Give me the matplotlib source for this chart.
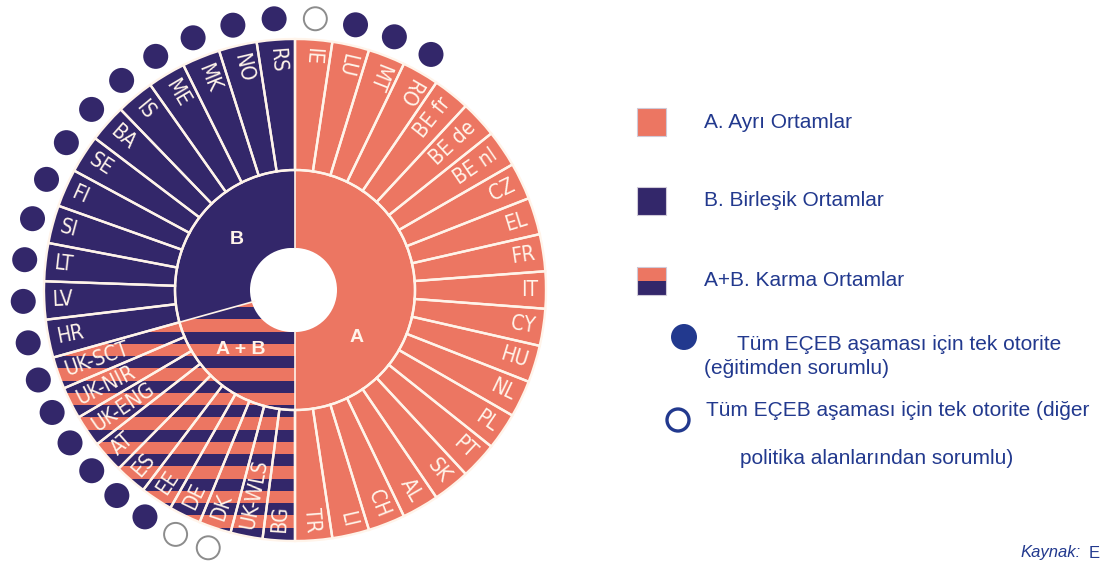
import numpy as np
import matplotlib.pyplot as plt
from matplotlib.patches import Wedge, Circle, Rectangle

# countries of each group, listed clockwise starting at the top of the circle
a_countries = ["IE", "LU", "MT", "RO", "BE fr", "BE de", "BE nl", "CZ", "EL", "FR", "IT",
               "CY", "HU", "NL", "PL", "PT", "SK", "AL", "CH", "LI", "TR"]
ab_countries = ["BG", "UK-WLS", "DK", "DE", "EE", "ES", "AT", "UK-ENG", "UK-NIR", "UK-SCT"]
b_countries = ["HR", "LV", "LT", "SI", "FI", "SE", "BA", "IS", "ME", "MK", "NO", "RS"]

# single authority markers
filled_dots = ["LU", "MT", "RO", "EE", "ES", "AT", "UK-ENG", "UK-NIR", "UK-SCT",
               "HR", "LV", "LT", "SI", "FI", "SE", "BA", "IS", "ME", "MK", "NO", "RS"]
open_dots = ["IE", "DE", "DK"]

group_labels = ["A", "A + B", "B"]
group_spans = [180.0, 74.4, 105.6]   # degrees each group takes on the ring

legend_labels = ["A. Ayrı Ortamlar", "B. Birleşik Ortamlar", "A+B. Karma Ortamlar"]

SALMON = "#EC7662"
NAVY = "#33276A"
CREAM = "#FFF4EA"
BLUE = "#22398E"

W, H = 1101, 565
cx, cy = 295, H - 290
r_hole, r_mid, r_out = 42, 120, 251

fig = plt.figure(figsize=(W / 100, H / 100), dpi=100)
ax = fig.add_axes([0, 0, 1, 1])
ax.set_xlim(0, W)
ax.set_ylim(0, H)
ax.axis("off")

label_font = dict(family=["Liberation Sans Narrow", "DejaVu Sans"], fontstretch="condensed")

groups = [a_countries, ab_countries, b_countries]
fills = [SALMON, SALMON, NAVY]

start = 90.0
ab_range = None
for countries, span, fc, glabel in zip(groups, group_spans, fills, group_labels):
    end = start - span
    step = span / len(countries)
    if glabel == "A + B":
        ab_range = (end, start)
    # inner group ring
    ax.add_patch(Wedge((cx, cy), r_mid, end, start, width=r_mid - r_hole,
                       facecolor=fc, edgecolor="none"))
    for i, c in enumerate(countries):
        t2 = start - i * step
        t1 = t2 - step
        ax.add_patch(Wedge((cx, cy), r_out, t1, t2, width=r_out - r_mid,
                           facecolor=fc, edgecolor="none"))
    start = end

# horizontal stripes of the mixed settings
clip = Wedge((cx, cy), r_out, ab_range[0], ab_range[1], width=r_out - r_hole,
             facecolor="none", edgecolor="none")
ax.add_patch(clip)
for k in range(11):
    ytop = 307 + k * 24.5
    stripe = Rectangle((0, H - ytop - 12), 600, 12, facecolor=NAVY, edgecolor="none")
    ax.add_patch(stripe)
    stripe.set_clip_path(clip)

# separators, labels and markers
start = 90.0
for countries, span in zip(groups, group_spans):
    step = span / len(countries)
    for i, c in enumerate(countries):
        t2 = start - i * step
        t1 = t2 - step
        ax.add_patch(Wedge((cx, cy), r_out, t1, t2, width=r_out - r_mid,
                           fill=False, edgecolor=CREAM, lw=1.7))
        th = (t1 + t2) / 2
        thn = (th + 180) % 360 - 180
        rad = np.radians(th)
        lx, ly = cx + 243 * np.cos(rad), cy + 243 * np.sin(rad)
        if np.cos(rad) > 0 and thn <= 55:
            rot, ha = thn, "right"
        else:
            rot, ha = thn - 180, "left"
        ax.text(lx, ly, c, rotation=rot, rotation_mode="anchor", ha=ha, va="center",
                color=CREAM, fontsize=15, **label_font)
        dx, dy = cx + 272 * np.cos(rad), cy + 272 * np.sin(rad)
        if c in filled_dots:
            ax.add_patch(Circle((dx, dy), 12.5, facecolor=NAVY, edgecolor="none"))
        elif c in open_dots:
            ax.add_patch(Circle((dx, dy), 11.5, facecolor="white", edgecolor="#8C8C8C", lw=1.4))
    ax.plot([cx + r_hole * np.cos(np.radians(start)), cx + r_mid * np.cos(np.radians(start))],
            [cy + r_hole * np.sin(np.radians(start)), cy + r_mid * np.sin(np.radians(start))],
            color=CREAM, lw=1.2)
    start -= span

ax.add_patch(Circle((cx, cy), r_mid, fill=False, edgecolor=CREAM, lw=1.7))
ax.add_patch(Circle((cx - 3, cy), r_hole, facecolor="white", edgecolor="none"))

# group names in the inner ring
for name, (gx, gy) in zip(group_labels, [(357, 338), (241, 350), (237, 240)]):
    ax.text(gx, H - gy, name, color=CREAM, fontsize=14, fontweight="bold",
            family="Liberation Sans", ha="center", va="center")

# legend
sq_y = [108, 187, 267]
for lab, y0, kind in zip(legend_labels, sq_y, ["A", "B", "AB"]):
    if kind == "AB":
        ax.add_patch(Rectangle((637, H - y0 - 14), 29, 14, facecolor=SALMON, edgecolor="none"))
        ax.add_patch(Rectangle((637, H - y0 - 28), 29, 14, facecolor=NAVY, edgecolor="none"))
        ax.add_patch(Rectangle((637, H - y0 - 28), 29, 28, fill=False, edgecolor="#D0CAD8", lw=0.8))
    else:
        ax.add_patch(Rectangle((637, H - y0 - 28), 29, 28, facecolor=SALMON if kind == "A" else NAVY,
                               edgecolor="#D0CAD8", lw=0.8))
    ax.text(704, H - y0 - 14, lab, color=BLUE, fontsize=15, family="Liberation Sans",
            va="center", ha="left")

ax.add_patch(Circle((684, H - 337), 13, facecolor=BLUE, edgecolor="none"))
ax.text(737, H - 344, "Tüm EÇEB aşaması için tek otorite", color=BLUE, fontsize=15,
        family="Liberation Sans", va="center")
ax.text(704, H - 369, "(eğitimden sorumlu)", color=BLUE, fontsize=15,
        family="Liberation Sans", va="center")
ax.add_patch(Circle((678, H - 420), 11, facecolor="white", edgecolor=BLUE, lw=2.4))
ax.text(706, H - 410, "Tüm EÇEB aşaması için tek otorite (diğer", color=BLUE, fontsize=15,
        family="Liberation Sans", va="center")
ax.text(740, H - 459, "politika alanlarından sorumlu)", color=BLUE, fontsize=15,
        family="Liberation Sans", va="center")

ax.text(1020, H - 553, "Kaynak:", color=BLUE, fontsize=12, style="italic",
        family="Liberation Sans", va="center")
ax.text(1089, H - 553, "E", color=BLUE, fontsize=12, family="Liberation Sans", va="center")

fig.savefig("out.png", dpi=100)
